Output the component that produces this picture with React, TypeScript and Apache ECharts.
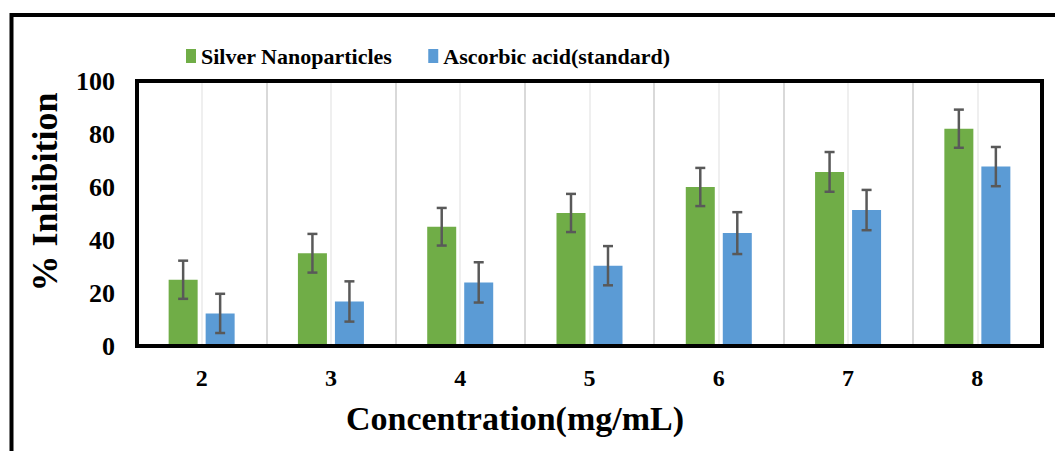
import React, { useEffect, useRef } from "react";
import * as echarts from "echarts";

// Concentration levels (mg/mL)
const categories = ["2", "3", "4", "5", "6", "7", "8"];

// % inhibition, mean values
const silverValues = [25, 35, 45, 50.2, 60, 65.7, 82];
const ascorbicValues = [12.3, 16.8, 24, 30.3, 42.6, 51.3, 67.7];

// ± error for each mean
const silverErrors = [7.2, 7.3, 7.1, 7.2, 7.2, 7.5, 7.2];
const ascorbicErrors = [7.4, 7.6, 7.6, 7.4, 7.9, 7.6, 7.4];

const yTicks = { min: 0, max: 100, interval: 20 };

const SERIES_NAMES = ["Silver Nanoparticles", "Ascorbic acid(standard)"];
const COLORS = ["#70ad47", "#5b9bd5"];

const FONT = '"Times New Roman", "Liberation Serif", serif';
const BAR_WIDTH = 29;
const BAR_GAP_PX = 8;
const ERR_COLOR = "#595959";

// half-category slots used only to draw the light mid-band grid lines
const halfSlots = categories.flatMap((c) => [c + "-a", c + "-b"]);

function errorBars(name: string, values: number[], errors: number[], side: number) {
  const offset = side * (BAR_WIDTH + BAR_GAP_PX) / 2;
  return {
    type: "custom",
    name,
    xAxisIndex: 0,
    yAxisIndex: 0,
    z: 5,
    silent: true,
    encode: { x: 0, y: 1 },
    data: values.map((v, i) => [i, v, errors[i]]),
    renderItem: (_params: any, api: any) => {
      const i = api.value(0);
      const v = api.value(1);
      const e = api.value(2);
      const top = api.coord([i, v + e]);
      const bot = api.coord([i, v - e]);
      const x = top[0] + offset;
      const style = { stroke: ERR_COLOR, lineWidth: 2.5 };
      const cap = 5;
      return {
        type: "group",
        children: [
          { type: "line", shape: { x1: x, y1: top[1], x2: x, y2: bot[1] }, style },
          { type: "line", shape: { x1: x - cap, y1: top[1], x2: x + cap, y2: top[1] }, style },
          { type: "line", shape: { x1: x - cap, y1: bot[1], x2: x + cap, y2: bot[1] }, style },
        ],
      };
    },
  };
}

export default function App() {
  const ref = useRef<HTMLDivElement>(null);

  useEffect(() => {
    if (!ref.current) return;
    const chart = echarts.init(ref.current, null, { renderer: "svg" });
    chart.setOption({
      animation: false,
      backgroundColor: "#ffffff",
      legend: {
        data: SERIES_NAMES,
        left: 181,
        top: 40,
        icon: "rect",
        itemWidth: 10,
        itemHeight: 14,
        itemGap: 36,
        textStyle: { fontFamily: FONT, fontWeight: "bold", fontSize: 22, color: "#000" },
      },
      grid: {
        left: 137,
        right: 13,
        top: 81,
        bottom: 105,
        show: true,
        borderColor: "#000",
        borderWidth: 4,
        backgroundColor: "transparent",
        z: 3,
      },
      xAxis: [
        {
          type: "category",
          data: categories,
          z: 2,
          axisLine: { show: false },
          axisTick: { show: false },
          axisLabel: {
            margin: 20,
            fontFamily: FONT,
            fontWeight: "bold",
            fontSize: 24,
            color: "#000",
          },
          splitLine: { show: true, lineStyle: { color: "#d9d9d9", width: 2 } },
        },
        {
          type: "category",
          data: halfSlots,
          position: "bottom",
          z: 1,
          axisLine: { show: false },
          axisTick: { show: false },
          axisLabel: { show: false },
          splitLine: { show: true, interval: 0, lineStyle: { color: "#efefef", width: 2 } },
        },
      ],
      yAxis: {
        type: "value",
        min: yTicks.min,
        max: yTicks.max,
        interval: yTicks.interval,
        axisLine: { show: false },
        axisTick: { show: false },
        splitLine: { show: false },
        axisLabel: {
          margin: 22,
          fontFamily: FONT,
          fontWeight: "bold",
          fontSize: 26,
          color: "#000",
        },
      },
      graphic: [
        {
          type: "rect",
          shape: { x: 11.5, y: 15, width: 1200, height: 700 },
          style: { fill: "none", stroke: "#000", lineWidth: 4 },
          silent: true,
        },
        {
          type: "text",
          x: 515,
          y: 418,
          style: {
            text: "Concentration(mg/mL)",
            fontFamily: FONT,
            fontWeight: "bold",
            fontSize: 34,
            fill: "#000",
            textAlign: "center",
            textVerticalAlign: "middle",
          },
        },
        {
          type: "text",
          x: 45,
          y: 192,
          rotation: Math.PI / 2,
          style: {
            text: "% Inhibition",
            fontFamily: FONT,
            fontWeight: "bold",
            fontSize: 36,
            fill: "#000",
            textAlign: "center",
            textVerticalAlign: "middle",
          },
        },
      ],
      series: [
        {
          type: "bar",
          name: SERIES_NAMES[0],
          data: silverValues,
          barWidth: BAR_WIDTH,
          barGap: `${(BAR_GAP_PX / BAR_WIDTH) * 100}%`,
          itemStyle: { color: COLORS[0] },
          z: 2,
        },
        {
          type: "bar",
          name: SERIES_NAMES[1],
          data: ascorbicValues,
          barWidth: BAR_WIDTH,
          barGap: `${(BAR_GAP_PX / BAR_WIDTH) * 100}%`,
          itemStyle: { color: COLORS[1] },
          z: 2,
        },
        errorBars("Silver Nanoparticles error", silverValues, silverErrors, -1),
        errorBars("Ascorbic acid error", ascorbicValues, ascorbicErrors, 1),
      ],
    });
    return () => chart.dispose();
  }, []);

  return (
    <div
      ref={ref}
      style={{ position: "absolute", left: 0, top: 0, width: 1055, height: 451 }}
    />
  );
}
